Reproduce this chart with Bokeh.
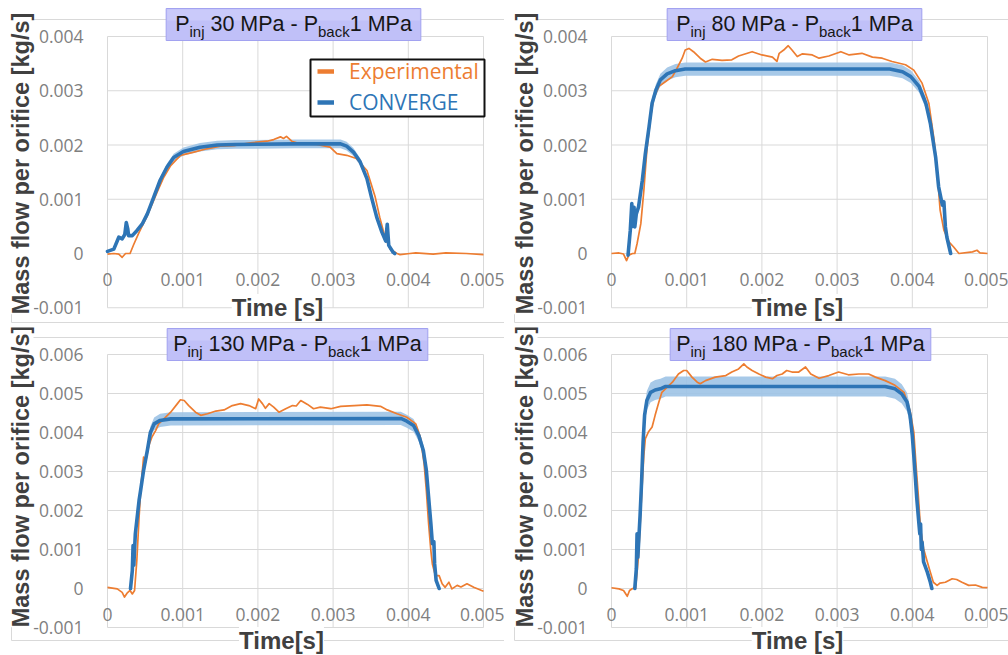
from bokeh.plotting import figure
from bokeh.layouts import gridplot
from bokeh.models import (Range1d, FixedTicker, Label, BoxAnnotation, Legend,
                          LegendItem)
from bokeh.embed import file_html
from bokeh.resources import INLINE

# ---------------------------------------------------------------- data
# injection pressures of the four cases [MPa]
p_inj = [30, 80, 130, 180]
p_back = 1

time_ticks = [0, 0.001, 0.002, 0.003, 0.004, 0.005]
time_tick_labels = ["0", "0.001", "0.002", "0.003", "0.004", "0.005"]
mass_ticks_low = [-0.001, 0, 0.001, 0.002, 0.003, 0.004]
mass_tick_labels_low = ["-0.001", "0", "0.001", "0.002", "0.003", "0.004"]
mass_ticks_high = [-0.001, 0, 0.001, 0.002, 0.003, 0.004, 0.005, 0.006]
mass_tick_labels_high = ["-0.001", "0", "0.001", "0.002", "0.003", "0.004",
                         "0.005", "0.006"]

# measured mass flow (Experimental) [s], [kg/s]
t_exp_30 = [0, 0.000084, 0.00015, 0.000195, 0.00024, 0.0003, 0.00035, 0.00042,
            0.00053, 0.00066, 0.00075, 0.00084, 0.00097, 0.00115, 0.00132,
            0.0015, 0.00168, 0.0019, 0.00212, 0.00221, 0.0023, 0.00234,
            0.00238, 0.00245, 0.00256, 0.00278, 0.00296, 0.00305, 0.00318,
            0.00331, 0.00345, 0.00356, 0.00362, 0.00369, 0.00376, 0.00385,
            0.00389, 0.00402, 0.0041, 0.00433, 0.0045, 0.00477, 0.005]
m_exp_30 = [-0.00001, 0, -0.00001, -0.00007, 0, 0, 0.00017, 0.00039,
            0.0007, 0.00113, 0.00141, 0.00162, 0.00181, 0.00187, 0.00193,
            0.00198, 0.00199, 0.00204, 0.00207, 0.0021, 0.00215, 0.00212,
            0.00216, 0.00207, 0.00202, 0.00201, 0.00196, 0.00184, 0.00181,
            0.00175, 0.00153, 0.00104, 0.00067, 0.0003, 0.00008, 0,
            -0.00002, 0, 0.00001, -0.00001, 0.00001, 0, -0.00002]

t_exp_80 = [0, 0.0001, 0.00016, 0.0002, 0.00023, 0.00028, 0.00031, 0.00034,
            0.00039, 0.00043, 0.00047, 0.00052, 0.00056, 0.00063, 0.00072,
            0.00081, 0.00087, 0.00094, 0.00098, 0.00103, 0.00109, 0.00118,
            0.00125, 0.00134, 0.00147, 0.0016, 0.00169, 0.00187, 0.002,
            0.00214, 0.0022, 0.00223, 0.00229, 0.00235, 0.0024, 0.00247,
            0.00254, 0.00267, 0.00276, 0.00289, 0.00305, 0.00316, 0.00333,
            0.00347, 0.0036, 0.00373, 0.00391, 0.00402, 0.00413, 0.00422,
            0.00429, 0.00433, 0.00437, 0.00442, 0.00449, 0.00455, 0.00462,
            0.0048, 0.00486, 0.0049, 0.005]
m_exp_80 = [0, 0.00001, -0.00001, -0.00013, -0.00003, 0, 0, 0.00018,
            0.00055, 0.00116, 0.0019, 0.00252, 0.00286, 0.00308, 0.00317,
            0.00326, 0.00341, 0.0036, 0.00375, 0.00378, 0.00372, 0.0036,
            0.00353, 0.00358, 0.00356, 0.00357, 0.00364, 0.00372, 0.00366,
            0.00362, 0.00354, 0.00369, 0.00375, 0.00383, 0.00375, 0.00363,
            0.00368, 0.00366, 0.0036, 0.00364, 0.00372, 0.00366, 0.00369,
            0.00362, 0.0036, 0.00354, 0.00348, 0.00338, 0.00314, 0.00277,
            0.00209, 0.00153, 0.0008, 0.00043, 0.00021, 0.00012, 0,
            0.00003, 0.00006, 0.00001, 0]

t_exp_130 = [0, 0.00013, 0.000195, 0.000226, 0.00026, 0.0003, 0.00033, 0.00036,
             0.00039, 0.00042, 0.00044, 0.00046, 0.00048, 0.00051, 0.00055,
             0.00059, 0.00064, 0.00068, 0.00075, 0.00084, 0.00093, 0.00097,
             0.00102, 0.00108, 0.00117, 0.00124, 0.00133, 0.00144, 0.00155,
             0.00166, 0.00177, 0.00188, 0.00197, 0.00201, 0.00206, 0.0021,
             0.00215, 0.00221, 0.00228, 0.00237, 0.00246, 0.00251, 0.00257,
             0.00266, 0.00274, 0.00283, 0.00297, 0.0031, 0.00328, 0.00345,
             0.00363, 0.00372, 0.00385, 0.00398, 0.0041, 0.00416, 0.00421,
             0.00424, 0.00427, 0.0043, 0.00432, 0.00436, 0.00441, 0.00445,
             0.00449, 0.00454, 0.00458, 0.00465, 0.0047, 0.00478, 0.00487,
             0.005]
m_exp_130 = [0.00003, -0.00001, -0.0001, -0.00022, -0.00012, -0.00005,
             -0.00014, -0.00005, 0.00072, 0.00183, 0.00247, 0.00294, 0.00337,
             0.00328, 0.00367, 0.00388, 0.00405, 0.00422, 0.00435, 0.00452,
             0.00474, 0.00484, 0.00482, 0.00469, 0.00452, 0.00444, 0.00448,
             0.00455, 0.00458, 0.00469, 0.00474, 0.00469, 0.00461, 0.00486,
             0.00474, 0.00462, 0.00474, 0.00465, 0.00452, 0.00461, 0.00469,
             0.00468, 0.00482, 0.00472, 0.00461, 0.00465, 0.00461, 0.00467,
             0.00469, 0.00471, 0.00467, 0.00458, 0.00448, 0.00439, 0.00422,
             0.00388, 0.0032, 0.00251, 0.00166, 0.00097, 0.00063, 0.00033,
             0.00033, 0.00012, 0.00003, 0.00016, -0.00001, 0.00008, 0.00004,
             0.00012, 0.00003, -0.00007]

t_exp_180 = [0, 0.0001, 0.00016, 0.00021, 0.00024, 0.00028, 0.00032, 0.00036,
             0.0004, 0.00043, 0.00045, 0.00049, 0.00054, 0.00058, 0.00063,
             0.00067, 0.00074, 0.00081, 0.00089, 0.00096, 0.001, 0.00107,
             0.00114, 0.00118, 0.00125, 0.00138, 0.00152, 0.0016, 0.00169,
             0.00176, 0.0018, 0.00187, 0.00196, 0.00205, 0.00214, 0.0022,
             0.00227, 0.00233, 0.0024, 0.00249, 0.00258, 0.00265, 0.00276,
             0.00289, 0.00302, 0.00315, 0.00329, 0.00342, 0.00351, 0.00364,
             0.00377, 0.00389, 0.00397, 0.00402, 0.00405, 0.00408, 0.00411,
             0.00415, 0.0042, 0.00424, 0.00428, 0.00433, 0.00437, 0.00444,
             0.00453, 0.00459, 0.00466, 0.00475, 0.00484, 0.00493, 0.005]
m_exp_180 = [0.00002, -0.00001, -0.00005, -0.0002, -0.00005, 0, 0, 0.00085,
             0.00238, 0.00341, 0.00384, 0.00401, 0.00414, 0.00444, 0.00478,
             0.00503, 0.00516, 0.00529, 0.0055, 0.00559, 0.00559, 0.00542,
             0.00529, 0.00525, 0.00533, 0.00542, 0.00546, 0.00555, 0.00563,
             0.00576, 0.00568, 0.00559, 0.0055, 0.00542, 0.00538, 0.00546,
             0.0055, 0.00559, 0.00555, 0.00555, 0.00568, 0.0055, 0.00539,
             0.00546, 0.00555, 0.00548, 0.0055, 0.0055, 0.00542, 0.00533,
             0.00521, 0.00503, 0.00456, 0.00401, 0.00315, 0.00238, 0.00153,
             0.00102, 0.00068, 0.00042, 0.00016, 0.00008, 0.00014, 0.00016,
             0.00025, 0.00023, 0.00016, 0.00008, 0.00009, 0.00003, 0.00002]

# simulated mass flow (CONVERGE) [s], [kg/s]
t_cfd_30 = [0, 0.000084, 0.00015, 0.000195, 0.00023, 0.00025, 0.00027,
            0.00028, 0.00033, 0.00039, 0.00046, 0.00053, 0.000615, 0.0007,
            0.00079, 0.00088, 0.00101, 0.00123, 0.00146, 0.0017, 0.0025,
            0.0031, 0.00318, 0.00327, 0.00336, 0.00345, 0.00351, 0.00358,
            0.00365, 0.0037, 0.00372, 0.00374, 0.0038, 0.00382]
m_cfd_30 = [0.00004, 0.00008, 0.0003, 0.00027, 0.00035, 0.00057, 0.00045,
            0.00033, 0.00033, 0.00042, 0.00054, 0.00073, 0.00104, 0.00135,
            0.00159, 0.00177, 0.00188, 0.00196, 0.002, 0.00201, 0.00202,
            0.00202, 0.00198, 0.00187, 0.00169, 0.00138, 0.00104, 0.00067,
            0.00039, 0.00023, 0.00054, 0.00015, 0.00002, 0]

t_cfd_80 = [0.00022, 0.00025, 0.00027, 0.00028, 0.0003, 0.00031, 0.00033,
            0.00036, 0.00041, 0.00045, 0.0005, 0.00054, 0.00059, 0.00065,
            0.00074, 0.00085, 0.00098, 0.0037, 0.00387, 0.00398, 0.00409,
            0.00418, 0.00424, 0.00431, 0.00435, 0.0044, 0.00442, 0.00444,
            0.00446, 0.00451]
m_cfd_80 = [-0.00003, 0.00043, 0.00092, 0.0005, 0.00085, 0.00049, 0.00073,
            0.00086, 0.00135, 0.00184, 0.00234, 0.00277, 0.00301, 0.0032,
            0.00331, 0.00337, 0.0034, 0.0034, 0.00335, 0.00326, 0.00308,
            0.00277, 0.0024, 0.00178, 0.00123, 0.00089, 0.00095, 0.00049,
            0.0003, 0]

t_cfd_130 = [0.000306, 0.00033, 0.00034, 0.00035, 0.00037, 0.00042, 0.00044,
             0.00048, 0.00053, 0.00057, 0.00062, 0.0007, 0.00084, 0.0039,
             0.00398, 0.00407, 0.00414, 0.0042, 0.00424, 0.00427, 0.0043,
             0.00432, 0.00434, 0.00435, 0.00437, 0.00441]
m_cfd_130 = [0, 0.00046, 0.0011, 0.0006, 0.0014, 0.00226, 0.00251, 0.00303,
             0.00354, 0.004, 0.00422, 0.00431, 0.00435, 0.00436, 0.00429,
             0.00418, 0.00392, 0.00354, 0.00303, 0.00234, 0.00166, 0.00115,
             0.0012, 0.00063, 0.00021, 0]

t_cfd_180 = [0.00031, 0.00033, 0.00034, 0.00035, 0.00038, 0.0004, 0.00042,
             0.00044, 0.00047, 0.00052, 0.00058, 0.00065, 0.00072, 0.00364,
             0.00377, 0.00386, 0.00393, 0.00397, 0.004, 0.00403, 0.00406,
             0.00409, 0.0041, 0.00411, 0.00412, 0.00413, 0.00415, 0.0042,
             0.00424, 0.00426]
m_cfd_180 = [0, 0.0005, 0.0014, 0.0008, 0.00187, 0.00273, 0.00375, 0.00444,
             0.00482, 0.00503, 0.00509, 0.00512, 0.00518, 0.00518, 0.00512,
             0.00499, 0.00478, 0.00444, 0.00392, 0.00315, 0.0023, 0.00162,
             0.0014, 0.00165, 0.001, 0.00119, 0.00068, 0.00042, 0.00016, 0]

# relative half-width of the CONVERGE uncertainty band, per case
band_frac = [0.04, 0.036, 0.039, 0.05]

x_titles = ["Time [s]", "Time [s]", "Time[s]", "Time [s]"]
y_title = "Mass flow per orifice [kg/s]"

# ---------------------------------------------------------------- style
ORANGE = "#ED7D31"
BLUE = "#2E75B6"
BAND = "#9DC3E6"
GRID = "#D9D9D9"
TICK_TXT = "#7F7F7F"
AXIS_TXT = "#404040"

# panel geometry in pixels: each figure is drawn edge to edge, and the
# ranges are chosen so that the plotting area sits where it should
PANEL_W = 504
PLOT_X0 = 107          # pixel of t = 0
PX_PER_MS = 75.2       # pixels per 0.001 s
ROW_H = [327, 328]
ZERO_Y = [253, 261]    # pixel row of zero flow (from the figure top)
PX_PER_G = [54.25, 39.0]   # pixels per 0.001 kg/s
TITLE_CX = [293, 290, 297, 296]   # horizontal centre of each title box
X_TITLE_CX = [277, 293, 281, 293]  # horizontal centre of each time label

# Arial advance widths (em) for the characters used in the panel titles
ARIAL_EM = {"P": 0.667, "i": 0.222, "n": 0.556, "j": 0.222, "b": 0.556,
            "a": 0.556, "c": 0.5, "k": 0.5, "M": 0.833, " ": 0.278,
            "-": 0.333}


def text_width(s, size):
    return sum(ARIAL_EM.get(ch, 0.556) for ch in s) * size


def screen_box(h, left, right, top, bottom, **kw):
    """Box given in figure pixels measured from the top-left corner."""
    kw.setdefault("line_alpha", 1)
    return BoxAnnotation(left=left, right=right, top=h - top,
                         bottom=h - bottom, left_units="screen",
                         right_units="screen", top_units="screen",
                         bottom_units="screen", **kw)


def screen_label(h, x, y, text, **kw):
    return Label(x=x, y=h - y, x_units="screen", y_units="screen",
                 text=text, **kw)


def make_panel(idx, t_exp, m_exp, t_cfd, m_cfd):
    row = idx // 2
    h = ROW_H[row]
    ticks = mass_ticks_low if row == 0 else mass_ticks_high
    tick_labels = mass_tick_labels_low if row == 0 else mass_tick_labels_high

    x_lo = -PLOT_X0 / PX_PER_MS * 0.001
    x_hi = (PANEL_W - PLOT_X0) / PX_PER_MS * 0.001
    y_hi = ZERO_Y[row] / PX_PER_G[row] * 0.001
    y_lo = (ZERO_Y[row] - h) / PX_PER_G[row] * 0.001

    p = figure(width=PANEL_W, height=h,
               x_range=Range1d(x_lo, x_hi), y_range=Range1d(y_lo, y_hi),
               output_backend="svg", toolbar_location=None, min_border=0)
    p.title.visible = False
    p.outline_line_color = None
    p.background_fill_color = "white"
    p.border_fill_color = "white"
    p.grid.visible = False

    # axes drawn through the origin, labels only
    xa = p.xaxis[0]
    xa.ticker = FixedTicker(ticks=time_ticks)
    xa.major_label_overrides = dict(zip(time_ticks, time_tick_labels))
    xa.fixed_location = 0
    ya = p.yaxis[0]
    ya.ticker = FixedTicker(ticks=ticks)
    ya.major_label_overrides = dict(zip(ticks, tick_labels))
    ya.fixed_location = 0
    for ax, standoff in ((xa, 13), (ya, 18)):
        ax.axis_line_color = None
        ax.major_tick_line_color = None
        ax.minor_tick_line_color = None
        ax.major_label_standoff = standoff
        ax.major_label_text_font = "Open Sans"
        ax.major_label_text_font_size = "17.5px"
        ax.major_label_text_color = TICK_TXT

    # chart-area frame
    p.add_layout(screen_box(h, 11 if idx % 2 == 0 else 10, 600,
                            19 if row == 0 else 10,
                            322 if row == 0 else 313,
                            fill_alpha=0, line_color=GRID, line_width=1,
                            level="underlay"))

    # gridlines over the plotting area only
    nt, nm = len(time_ticks), len(ticks)
    p.segment(x0=time_ticks, y0=[ticks[0]] * nt, x1=time_ticks,
              y1=[ticks[-1]] * nt, line_color=GRID, line_width=1)
    p.segment(x0=[time_ticks[0]] * nm, y0=ticks, x1=[time_ticks[-1]] * nm,
              y1=ticks, line_color=GRID, line_width=1)

    # curves
    frac = band_frac[idx]
    lower = [v * (1 - frac) for v in m_cfd]
    upper = [v * (1 + frac) for v in m_cfd]
    p.varea(x=t_cfd, y1=lower, y2=upper, fill_color=BAND, fill_alpha=0.9)
    p.line(t_exp, m_exp, line_color=ORANGE, line_width=1.7, line_join="round")
    p.line(t_cfd, m_cfd, line_color=BLUE, line_width=3.6,
           line_join="round", line_cap="round")

    # panel title with subscripts (y = vertical middle of each run)
    main_sz, sub_sz = 21.5, 15
    mid = 23 if row == 0 else 16
    segments = [("P", main_sz, mid), ("inj", sub_sz, mid + 8),
                (f" {p_inj[idx]} MPa - P", main_sz, mid),
                ("back", sub_sz, mid + 8), (f"{p_back} MPa", main_sz, mid)]
    total = sum(text_width(s, sz) for s, sz, _ in segments)
    left = TITLE_CX[idx] - total / 2
    pad = 9 if p_inj[idx] < 100 else 6
    box_top = 8 if row == 0 else 1
    p.add_layout(screen_box(h, left - pad, left + total + pad, box_top,
                            box_top + 32, fill_color="#C0C0F8", fill_alpha=1,
                            line_color="#A2A2F0", line_width=1))
    p.add_layout(screen_box(h, left - pad + 1, left + total + pad - 1,
                            box_top + 1, box_top + 12, fill_color="#CACAFA",
                            fill_alpha=1, line_color=None))
    x = left
    for s, sz, y in segments:
        lead = len(s) - len(s.lstrip(" "))
        x += text_width(" " * lead, sz)
        p.add_layout(screen_label(h, x, y, s.lstrip(" "),
                                  text_font="Liberation Sans",
                                  text_font_size=f"{sz}px",
                                  text_color="#161616", text_align="left",
                                  text_baseline="middle"))
        x += text_width(s.lstrip(" "), sz)

    # axis titles
    p.add_layout(screen_label(h, X_TITLE_CX[idx], 307 if row == 0 else 313,
                              x_titles[idx], text_font="Liberation Sans",
                              text_font_style="bold", text_font_size="24px",
                              text_color=AXIS_TXT, text_align="center",
                              text_baseline="middle",
                              background_fill_color="white"))
    p.add_layout(screen_label(h, 20, 163 if row == 0 else 149, y_title,
                              angle=90, angle_units="deg",
                              text_font="Liberation Sans",
                              text_font_style="bold",
                              text_font_size="23.5px", text_color=AXIS_TXT,
                              text_align="center", text_baseline="middle",
                              background_fill_color="white"))

    if idx == 0:
        p.add_layout(screen_box(h, 310, 484, 59, 116, fill_color="white",
                                fill_alpha=1, line_color="#111111",
                                line_width=2))
        nan = float("nan")
        key_exp = p.line([nan], [nan], line_color=ORANGE, line_width=4.5)
        key_cfd = p.line([nan], [nan], line_color=BLUE, line_width=4.5)
        for name, rend, col, ybot in (("Experimental", key_exp, ORANGE, 85),
                                      ("CONVERGE", key_cfd, BLUE, 116)):
            lg = Legend(items=[LegendItem(label=name, renderers=[rend])],
                        location=(317, h - ybot), padding=0, margin=0,
                        spacing=0, glyph_width=17, glyph_height=26,
                        label_height=26, label_standoff=15,
                        label_text_font="Open Sans",
                        label_text_font_size="21px", label_text_color=col,
                        background_fill_alpha=0, border_line_color=None)
            p.add_layout(lg)
    return p


panels = [
    make_panel(0, t_exp_30, m_exp_30, t_cfd_30, m_cfd_30),
    make_panel(1, t_exp_80, m_exp_80, t_cfd_80, m_cfd_80),
    make_panel(2, t_exp_130, m_exp_130, t_cfd_130, m_cfd_130),
    make_panel(3, t_exp_180, m_exp_180, t_cfd_180, m_cfd_180),
]

grid = gridplot([[panels[0], panels[1]], [panels[2], panels[3]]],
                toolbar_location=None)

with open("out.html", "w") as f:
    f.write(file_html(grid, INLINE, title="Mass flow per orifice"))
